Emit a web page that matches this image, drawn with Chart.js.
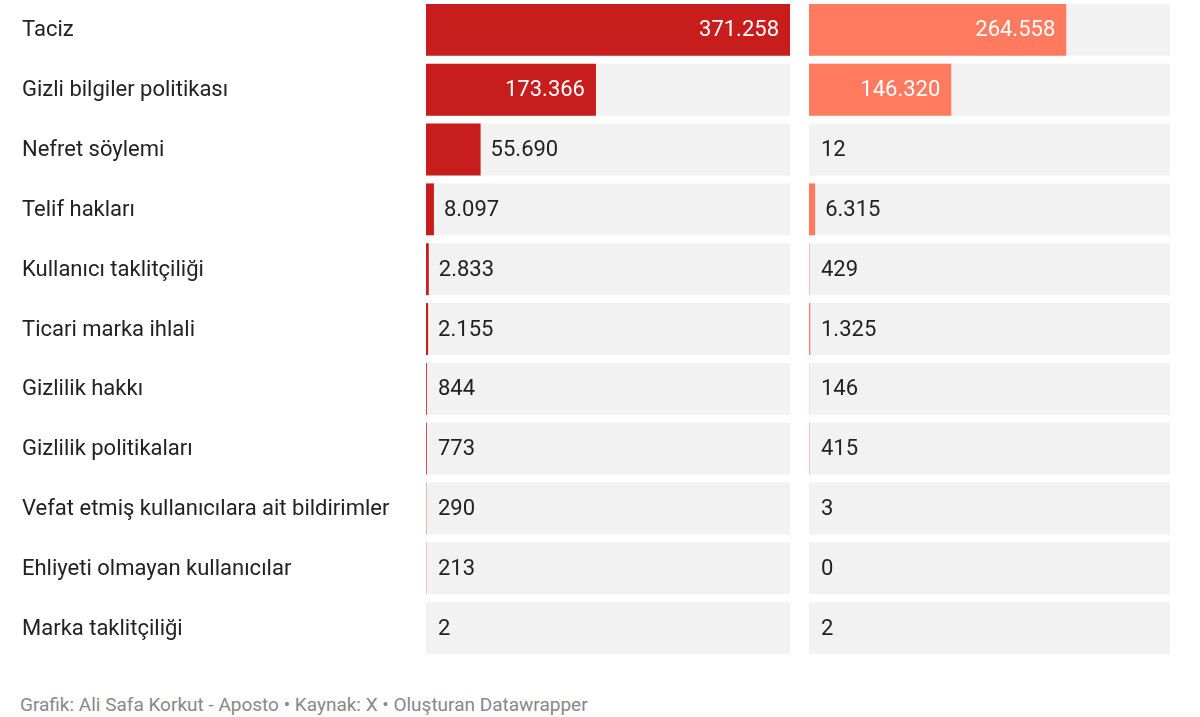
<!DOCTYPE html>
<html><head><meta charset="utf-8">
<script src="https://cdn.jsdelivr.net/npm/chart.js@4"></script>
<style>
body{margin:0;background:#fff;font-family:Roboto,sans-serif;width:1200px;height:717px;position:relative;overflow:hidden}
.c{position:absolute;top:0;height:658px}
#footer{position:absolute;left:20px;top:693px;font-size:19px;color:#888}
</style></head><body>
<div class="c" style="left:0;width:790px"><canvas id="left"></canvas></div>
<div class="c" style="left:809px;width:361px"><canvas id="right"></canvas></div>
<div id="footer">Grafik: Ali Safa Korkut - Aposto • Kaynak: X • Oluşturan Datawrapper</div>
<script>
const categories = ["Taciz","Gizli bilgiler politikası","Nefret söylemi","Telif hakları","Kullanıcı taklitçiliği","Ticari marka ihlali","Gizlilik hakkı","Gizlilik politikaları","Vefat etmiş kullanıcılara ait bildirimler","Ehliyeti olmayan kullanıcılar","Marka taklitçiliği"];
const seriesA = [371258,173366,55690,8097,2833,2155,844,773,290,213,2];
const seriesB = [264558,146320,12,6315,429,1325,146,415,3,0,2];
const maxVal = 371258;

const fmt = v => v.toLocaleString("de-DE");

const valueLabels = {
  id: "valueLabels",
  afterDatasetsDraw(chart){
    const ctx = chart.ctx, meta = chart.getDatasetMeta(1), data = chart.data.datasets[1].data;
    const x0 = chart.chartArea.left;
    ctx.save();
    ctx.font = "22px Roboto";
    ctx.textBaseline = "middle";
    meta.data.forEach((bar, i) => {
      const t = fmt(data[i]), w = ctx.measureText(t).width;
      const end = bar.x;
      if (end - x0 > w + 22) {
        ctx.fillStyle = "#fff"; ctx.textAlign = "right";
        ctx.fillText(t, end - 11, bar.y + 1);
      } else {
        ctx.fillStyle = "#222"; ctx.textAlign = "left";
        ctx.fillText(t, Math.max(end, x0 + 2) + 10, bar.y + 1);
      }
    });
    if (chart.options.plugins.valueLabels.cats) {
      ctx.fillStyle = "#222"; ctx.textAlign = "left";
      const ys = chart.scales.y;
      categories.forEach((c, i) => ctx.fillText(c, 22, ys.getPixelForValue(i) + 1));
    }
    ctx.restore();
  }
};

function makeChart(id, values, color, cats){
  new Chart(document.getElementById(id), {
    type: "bar",
    data: {
      labels: categories,
      datasets: [
        { data: categories.map(() => maxVal), backgroundColor: "#f2f2f2", order: 2, grouped: false },
        { data: values, backgroundColor: color, order: 1, grouped: false,
          minBarLength: 0 }
      ]
    },
    options: {
      indexAxis: "y",
      responsive: true, maintainAspectRatio: false, animation: false,
      categoryPercentage: 1, barPercentage: 0.867,
      layout: { padding: { left: cats ? 426 : 0, top: 0, bottom: 0, right: 0 } },
      plugins: { legend: { display: false }, tooltip: { enabled: false }, valueLabels: { cats } },
      scales: {
        x: { display: false, min: 0, max: maxVal },
        y: { display: false }
      }
    },
    plugins: [valueLabels]
  });
}
// thin marker for small nonzero values as in original
const minLine = {
  id: "minLine",
  beforeDatasetsDraw(){}
};
makeChart("left", seriesA, "#c71e1d", true);
makeChart("right", seriesB, "#ff7a5e", false);
</script>
</body></html>
